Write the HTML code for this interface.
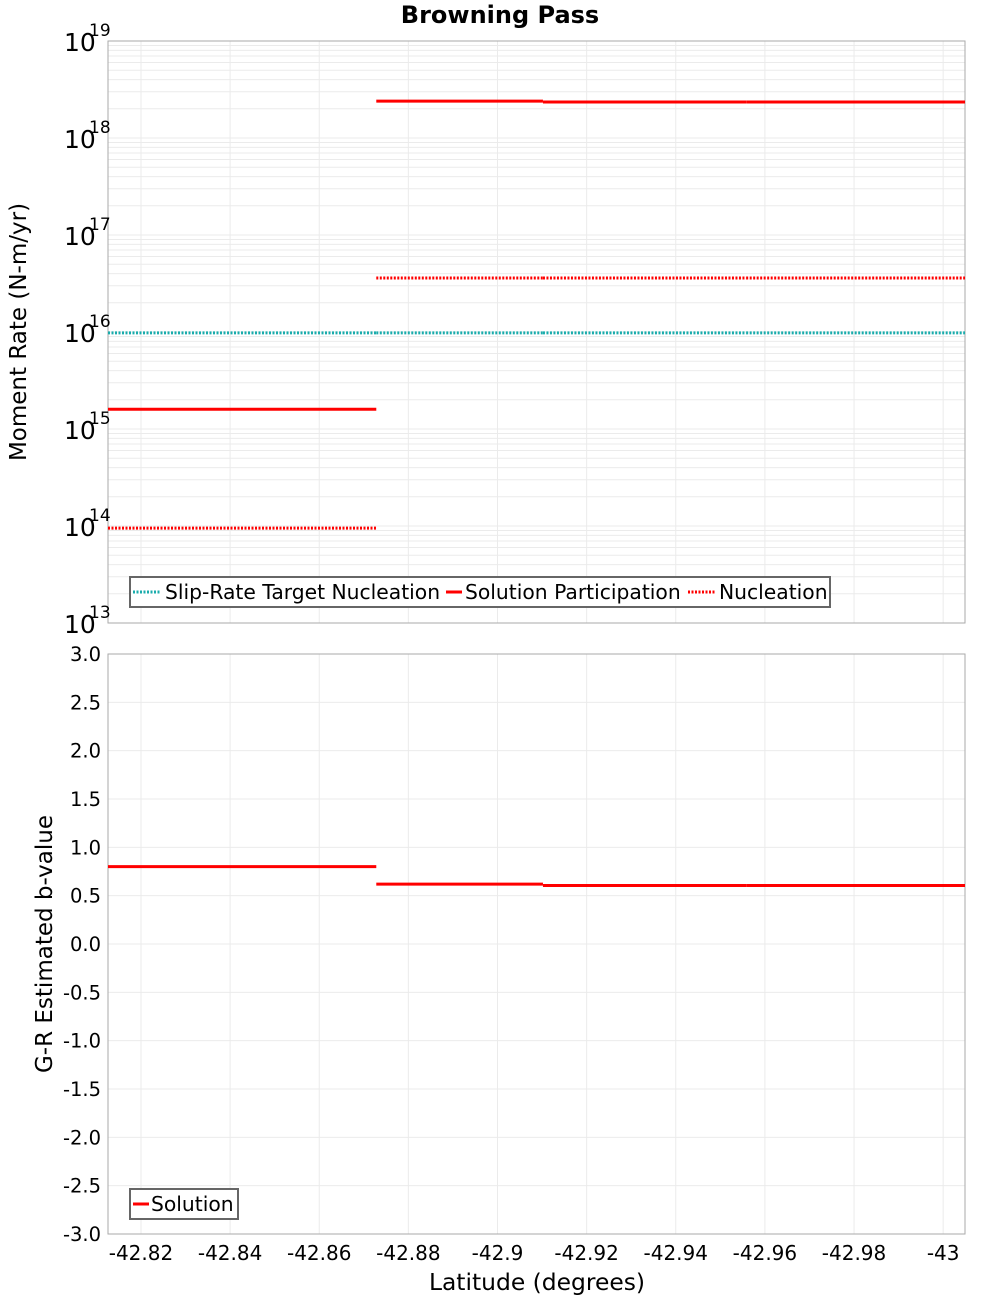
<!DOCTYPE html>
<html><head><meta charset="utf-8"><style>
body{margin:0;background:#fff;}
svg text{font-family:"DejaVu Sans","Liberation Sans",sans-serif;fill:#000;}
</style></head><body>
<svg id="c" width="1000" height="1300" xmlns="http://www.w3.org/2000/svg"></svg>
<script>
// Data
const segStarts = [-42.8126, -42.8728, -42.9102, -42.9558];
const segEnds = [-42.8728, -42.9102, -42.9558, -43.0049];
const participation = [1.6e15, 2.4e18, 2.35e18, 2.35e18];
const nucleation = [9.5e13, 3.6e16, 3.6e16, 3.6e16];
const targetNucleation = [9.8e15, 9.8e15, 9.8e15, 9.8e15];
const bValues = [0.80, 0.62, 0.605, 0.605];
const xTicks = [-42.82, -42.84, -42.86, -42.88, -42.9, -42.92, -42.94, -42.96, -42.98, -43];
const xTickLabels = ["-42.82","-42.84","-42.86","-42.88","-42.9","-42.92","-42.94","-42.96","-42.98","-43"];
const yLogExps = [13, 14, 15, 16, 17, 18, 19];
const bTicks = [-3, -2.5, -2, -1.5, -1, -0.5, 0, 0.5, 1, 1.5, 2, 2.5, 3];

const svg = document.getElementById('c');
const NS = 'http://www.w3.org/2000/svg';
function mk(tag, attrs, parent){const e=document.createElementNS(NS,tag);for(const k in attrs)e.setAttribute(k,attrs[k]);(parent||svg).appendChild(e);return e;}
const L=108,R=965,T1=41,B1=623,T2=654,B2=1234;
const xMin=-42.8126,xMax=-43.0049;
const xs=v=>L+(v-xMin)/(xMax-xMin)*(R-L);
const y1=v=>B1-(Math.log10(v)-13)/6*(B1-T1);
const y2=v=>B2-(v+3)/6*(B2-T2);

// title
let t=mk('text',{x:500,y:23,'text-anchor':'middle','font-size':24,'font-weight':'bold'});t.textContent='Browning Pass';


// grids
const g1=mk('g',{});
for(let e=13;e<19;e++)for(let m=1;m<10;m++){const y=y1(m*Math.pow(10,e));mk('line',{x1:L,x2:R,y1:y,y2:y,stroke:'#ebebeb','stroke-width':1},g1);}
const g2=mk('g',{});
bTicks.forEach(v=>{const y=y2(v);mk('line',{x1:L,x2:R,y1:y,y2:y,stroke:'#ebebeb'},g2);});
xTicks.forEach(v=>{const x=xs(v);mk('line',{x1:x,x2:x,y1:T1,y2:B1,stroke:'#ebebeb'},g1);mk('line',{x1:x,x2:x,y1:T2,y2:B2,stroke:'#ebebeb'},g2);});

// frames
let f=mk('rect',{x:L,y:T1,width:R-L,height:B1-T1,fill:'none',stroke:'#aaa'});
f=mk('rect',{x:L,y:T2,width:R-L,height:B2-T2,fill:'none',stroke:'#aaa'});

// top y labels
yLogExps.forEach(e=>{const y=y1(Math.pow(10,e));
 let a=mk('text',{x:64,y:y+10,'font-size':25});a.textContent='10';
 let b=mk('text',{x:89,y:y-5,'font-size':17});b.textContent=String(e);});
// bottom y labels
bTicks.forEach(v=>{let a=mk('text',{x:101,y:y2(v)+7,'font-size':19.5,'text-anchor':'end'});a.textContent=v.toFixed(1);
 });
// x labels
xTicks.forEach((v,i)=>{let a=mk('text',{x:xs(v),y:1260,'font-size':20,'text-anchor':'middle'});a.textContent=xTickLabels[i];
 });

// axis titles
let at=mk('text',{x:26,y:332,'font-size':23,'text-anchor':'middle',transform:'rotate(-90 26 332)'});at.textContent='Moment Rate (N-m/yr)';

at=mk('text',{x:52,y:944,'font-size':23,'text-anchor':'middle',transform:'rotate(-90 52 944)'});at.textContent='G-R Estimated b-value';

at=mk('text',{x:537,y:1290,'font-size':23.4,'text-anchor':'middle'});at.textContent='Latitude (degrees)';


// series
function series(vals,yf,color,dash,name){
 for(let i=0;i<vals.length;i++){
  const l=mk('line',{x1:xs(segStarts[i]),x2:xs(segEnds[i]),y1:yf(vals[i]),y2:yf(vals[i]),stroke:color,'stroke-width':3});
  if(dash)l.setAttribute('stroke-dasharray',dash);
  
  
 }}
series(targetNucleation,y1,'#1aacac','2 1.5','target-nucleation-segment');
series(nucleation,y1,'#ff0000','2 1.5','nucleation-segment');
series(participation,y1,'#ff0000',null,'participation-segment');
series(bValues,y2,'#ff0000',null,'b-value-segment');

// legends
let lg=mk('g',{});
mk('rect',{x:130,y:577,width:700,height:30,fill:'#fff',stroke:'#666','stroke-width':2},lg);
mk('line',{x1:133,x2:161,y1:592,y2:592,stroke:'#1aacac','stroke-width':3,'stroke-dasharray':'2 1.5'},lg);
let lt=mk('text',{x:165,y:599,'font-size':20.3},lg);lt.textContent='Slip-Rate Target Nucleation';
mk('line',{x1:446,x2:462,y1:592,y2:592,stroke:'#f00','stroke-width':3},lg);
lt=mk('text',{x:465,y:599,'font-size':20.3},lg);lt.textContent='Solution Participation';
mk('line',{x1:688,x2:716,y1:592,y2:592,stroke:'#f00','stroke-width':3,'stroke-dasharray':'2 1.5'},lg);
lt=mk('text',{x:719,y:599,'font-size':20.3},lg);lt.textContent='Nucleation';
lg=mk('g',{});
mk('rect',{x:130,y:1189,width:108,height:30,fill:'#fff',stroke:'#666','stroke-width':2},lg);
mk('line',{x1:133,x2:149,y1:1204,y2:1204,stroke:'#f00','stroke-width':3},lg);
lt=mk('text',{x:151,y:1211,'font-size':20.3},lg);lt.textContent='Solution';
</script>
</body></html>
